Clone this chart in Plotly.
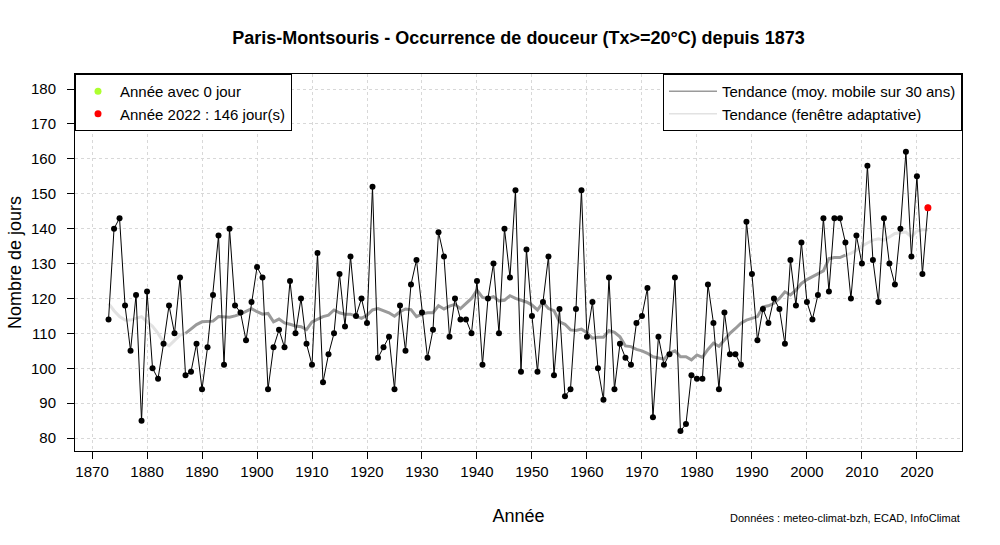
import plotly.graph_objects as go

years = list(range(1873, 2023))
days = [
    114, 140, 143, 118, 105, 121, 85, 122, 100, 97,          # 1873-1882
    107, 118, 110, 126, 98, 99, 107, 94, 106, 121,           # 1883-1892
    138, 101, 140, 118, 116, 108, 119, 129, 126, 94,         # 1893-1902
    106, 111, 106, 125, 110, 120, 107, 101, 133, 96,         # 1903-1912
    104, 110, 127, 112, 132, 115, 120, 113, 152, 103,        # 1913-1922
    106, 109, 94, 118, 105, 124, 131, 116, 103, 111,         # 1923-1932
    139, 132, 109, 120, 114, 114, 110, 125, 101, 120,        # 1933-1942
    130, 110, 140, 126, 151, 99, 134, 115, 99, 119,          # 1943-1952
    132, 98, 117, 92, 94, 117, 151, 109, 119, 100,           # 1953-1962
    91, 126, 94, 107, 103, 101, 113, 115, 123, 86,           # 1963-1972
    109, 101, 104, 126, 82, 84, 98, 97, 97, 124,             # 1973-1982
    113, 94, 116, 104, 104, 101, 142, 127, 108, 117,         # 1983-1992
    113, 120, 117, 107, 131, 118, 136, 119, 114, 121,        # 1993-2002
    143, 122, 143, 143, 136, 120, 138, 130, 158, 131,        # 2003-2012
    119, 143, 130, 124, 140, 162, 132, 155, 127, 146,        # 2013-2022
]

# 30-year moving-average trend, 1887-2007
ma_years = list(range(1887, 2008))
ma_values = [
    110.0, 111.2, 112.5, 113.3, 113.3, 113.5, 114.8, 114.6, 114.6, 115.0,   # 1887-1896
    115.5, 116.3, 117.1, 116.2, 115.5, 115.7, 113.3, 114.1, 113.0, 112.6,   # 1897-1906
    112.1, 111.9, 111.1, 113.3, 114.1, 114.8, 115.2, 116.7, 115.9, 115.5,   # 1907-1916
    115.5, 115.0, 114.3, 115.2, 116.7, 117.1, 116.5, 115.9, 114.9, 116.2,   # 1917-1926
    117.0, 116.8, 114.8, 115.5, 115.9, 115.9, 117.9, 117.0, 117.8, 118.3,   # 1927-1936
    117.1, 118.6, 120.0, 122.4, 120.3, 120.0, 120.5, 119.3, 119.5, 120.8,   # 1937-1946
    120.0, 119.5, 119.0, 118.1, 116.7, 118.9, 117.1, 116.5, 113.3, 112.6,   # 1947-1956
    111.0, 110.8, 111.2, 110.2, 108.6, 108.9, 108.9, 110.8, 110.3, 109.0,   # 1957-1966
    106.4, 106.2, 105.4, 105.0, 104.3, 103.3, 103.0, 102.6, 104.3, 105.0,   # 1967-1976
    103.3, 103.3, 102.4, 103.8, 103.1, 105.4, 107.2, 106.3, 108.1, 110.0,   # 1977-1986
    111.4, 112.9, 113.8, 114.3, 114.8, 117.6, 117.9, 118.6, 120.0, 121.9,   # 1987-1996
    121.0, 122.4, 124.3, 125.4, 126.2, 127.1, 127.9, 131.4, 131.7, 131.7,   # 1997-2006
    132.4,                                                                  # 2007
]

# adaptive-window trend, visible at both ends
ad_years_start = list(range(1873, 1888))
ad_values_start = [118.6, 116.5, 114.8, 113.8, 113.8, 114.3, 114.8, 113.3,
                   112.0, 110.0, 107.5, 106.4, 108.0, 109.5, 110.0]
ad_years_end = list(range(2007, 2023))
ad_values_end = [132.4, 132.9, 133.8, 135.0, 135.9, 136.7, 137.1, 136.7,
                 137.6, 138.6, 138.8, 139.0, 137.6, 139.3, 139.7, 139.7]

x_ticks = list(range(1870, 2030, 10))
y_ticks = list(range(80, 190, 10))

last_year = years[-1]
last_value = days[-1]

FONT = "Liberation Sans, Arial, sans-serif"

fig = go.Figure()

# adaptive trend (light grey), both ends
fig.add_trace(go.Scatter(
    x=ad_years_start + [None] + ad_years_end,
    y=ad_values_start + [None] + ad_values_end,
    mode="lines", line=dict(color="#e2e2e2", width=3),
    name="Tendance (fenêtre adaptative)", legend="legend2",
    connectgaps=False, hoverinfo="skip", showlegend=False,
))
# moving average (grey)
fig.add_trace(go.Scatter(
    x=ma_years, y=ma_values, mode="lines",
    line=dict(color="#9a9a9a", width=3),
    name="Tendance (moy. mobile sur 30 ans)", legend="legend2",
    showlegend=False, hoverinfo="skip",
))
# legend-only entries for trends
fig.add_trace(go.Scatter(
    x=[None], y=[None], mode="lines", line=dict(color="#9a9a9a", width=1.5),
    name="Tendance (moy. mobile sur 30 ans)", legend="legend2",
))
fig.add_trace(go.Scatter(
    x=[None], y=[None], mode="lines", line=dict(color="#e2e2e2", width=1.5),
    name="Tendance (fenêtre adaptative)", legend="legend2",
))

# main series
fig.add_trace(go.Scatter(
    x=years, y=days, mode="lines+markers",
    line=dict(color="black", width=1),
    marker=dict(color="black", size=6),
    showlegend=False, name="Nombre de jours",
))
# last year highlighted
fig.add_trace(go.Scatter(
    x=[last_year], y=[last_value], mode="markers",
    marker=dict(color="#ff0000", size=7),
    showlegend=False,
))

# legend entries (left)
fig.add_trace(go.Scatter(
    x=[None], y=[None], mode="markers",
    marker=dict(color="#adff2f", size=7),
    name="Année avec 0 jour", legend="legend",
))
fig.add_trace(go.Scatter(
    x=[None], y=[None], mode="markers",
    marker=dict(color="#ff0000", size=7),
    name=f"Année {last_year} : {last_value} jour(s)", legend="legend",
))

axis_common = dict(
    showline=True, linecolor="black", linewidth=1, mirror=True,
    ticks="outside", ticklen=7, tickcolor="black", tickwidth=1,
    showgrid=True, gridcolor="#d8d8d8", griddash="dot", gridwidth=1,
    zeroline=False, tickfont=dict(family=FONT, size=15, color="black"),
    automargin=False,
)

fig.update_layout(
    width=1000, height=545,
    margin=dict(l=75, r=38, t=74, b=94),
    paper_bgcolor="white", plot_bgcolor="white",
    font=dict(family=FONT, color="black"),
    title=dict(
        text="<b>Paris-Montsouris - Occurrence de douceur (Tx>=20°C) depuis 1873</b>",
        x=0.5185, xanchor="center", y=0.93, yanchor="middle",
        font=dict(family=FONT, size=18, color="black"),
    ),
    xaxis=dict(
        range=[1866.9, 2028.2], tickvals=x_ticks,
        title=dict(text="Année", font=dict(family=FONT, size=18), standoff=30),
        **axis_common,
    ),
    yaxis=dict(
        range=[76.3, 184.3], tickvals=y_ticks, ticklabelstandoff=8,
        title=dict(text="Nombre de jours", font=dict(family=FONT, size=18), standoff=4),
        **axis_common,
    ),
    legend=dict(
        x=0, y=1, xanchor="left", yanchor="top",
        bgcolor="white", bordercolor="black", borderwidth=1,
        font=dict(family=FONT, size=15, color="black"),
        itemwidth=34, tracegroupgap=0,
    ),
    legend2=dict(
        x=1, y=1, xanchor="right", yanchor="top",
        bgcolor="white", bordercolor="black", borderwidth=1,
        font=dict(family=FONT, size=15, color="black"),
        itemwidth=48, tracegroupgap=0,
    ),
    annotations=[dict(
        text="Données : meteo-climat-bzh, ECAD, InfoClimat",
        xref="paper", yref="paper", x=1.0, y=-0.178,
        xanchor="right", yanchor="middle", showarrow=False,
        font=dict(family=FONT, size=11, color="black"),
    )],
    showlegend=True,
)

fig.write_html("out.html")
